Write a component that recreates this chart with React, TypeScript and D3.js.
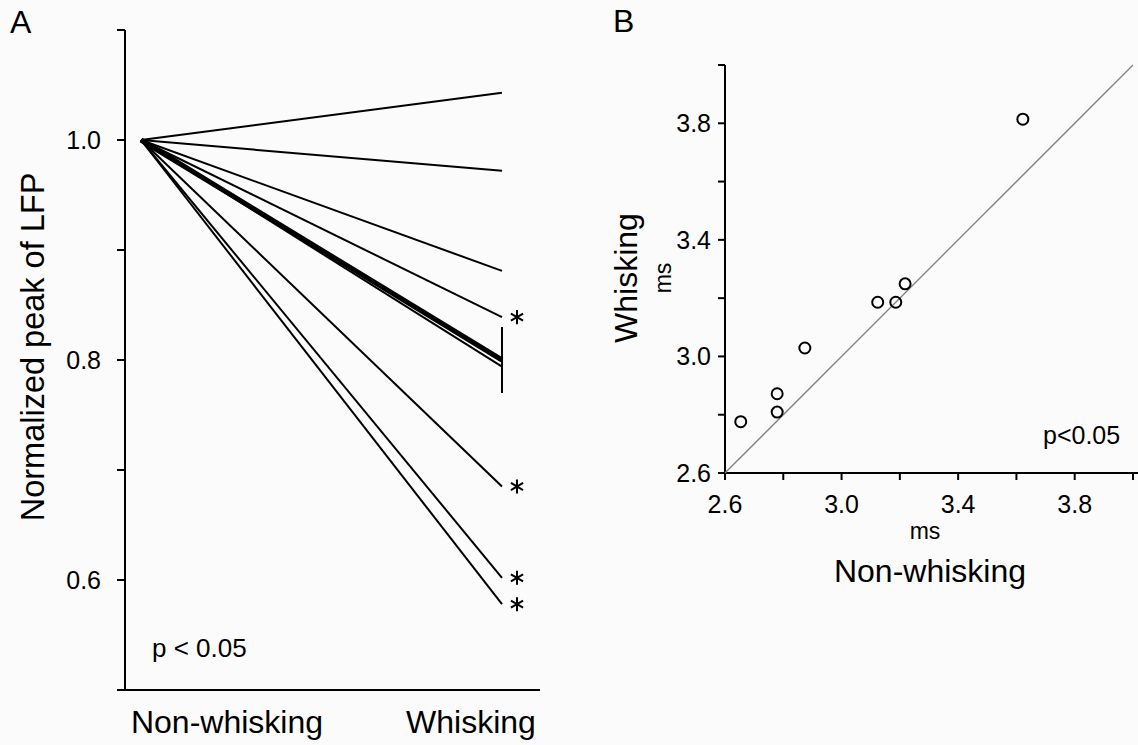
import React from 'react';
import * as d3 from 'd3';

// panel A: normalized LFP peak, each recording goes from 1.0 (non-whisking) to its whisking value
const conditions = ['Non-whisking', 'Whisking'];
const whiskingPeak = [1.043, 0.972, 0.881, 0.839, 0.794, 0.685, 0.602, 0.578];
const significant = [false, false, false, true, false, true, true, true];
const meanPeak = 0.8;
const semPeak = 0.03;
const peakTicks = [0.5, 0.6, 0.7, 0.8, 0.9, 1.0, 1.1];
const peakLabels = [0.6, 0.8, 1.0];

// panel B: latency (ms), non-whisking vs whisking
const latencyNonWhisking = [2.654, 2.779, 2.779, 2.874, 3.124, 3.186, 3.218, 3.622];
const latencyWhisking = [2.776, 2.809, 2.872, 3.029, 3.186, 3.186, 3.249, 3.814];
const latencyTicks = [2.6, 2.8, 3.0, 3.2, 3.4, 3.6, 3.8, 4.0];
const latencyLabels = [2.6, 3.0, 3.4, 3.8];

const font = '"Liberation Sans", Arial, sans-serif';
const fmt = d3.format('.1f');

const App = () => {
    const W = 1138, H = 745;

    // scales for A
    const xA = d3.scalePoint().domain(conditions).range([141, 502]);
    const yA = d3.scaleLinear().domain([0.5, 1.1]).range([690, 30]);
    const line = d3.line<[string, number]>().x(d => xA(d[0])!).y(d => yA(d[1]));
    const star = d3.symbol(d3.symbolAsterisk, 139)();

    // scales for B
    const xB = d3.scaleLinear().domain([2.6, 4.0]).range([725, 1133]);
    const yB = d3.scaleLinear().domain([2.6, 4.0]).range([473, 65]);

    return (
        <svg width={W} height={H} style={{position: 'absolute', left: 0, top: 0}} fontFamily={font}>
            <rect width={W} height={H} fill="#fbfbfb"/>

            {/* ---------- A ---------- */}
            <text x={10} y={33} fontSize={32}>A</text>
            <line x1={125} x2={125} y1={yA(1.1)} y2={yA(0.5)} stroke="#000" strokeWidth={2}/>
            <line x1={124} x2={540} y1={yA(0.5)} y2={yA(0.5)} stroke="#000" strokeWidth={2}/>
            {peakTicks.map(t => (
                <line key={t} x1={117} x2={125} y1={yA(t)} y2={yA(t)} stroke="#000" strokeWidth={2}/>
            ))}
            {peakLabels.map(t => (
                <text key={t} x={101} y={yA(t)} dy="0.35em" textAnchor="end" fontSize={25}>{fmt(t)}</text>
            ))}
            <text transform="translate(44,347) rotate(-90)" textAnchor="middle" fontSize={32.5}>
                Normalized peak of LFP
            </text>

            {whiskingPeak.map((v, i) => (
                <path key={i} d={line([[conditions[0], 1.0], [conditions[1], v]])!}
                      fill="none" stroke="#000" strokeWidth={2}/>
            ))}
            <path d={line([[conditions[0], 1.0], [conditions[1], meanPeak]])!}
                  fill="none" stroke="#000" strokeWidth={5}/>
            <line x1={xA(conditions[1])} x2={xA(conditions[1])}
                  y1={yA(meanPeak + semPeak)} y2={yA(meanPeak - semPeak)} stroke="#000" strokeWidth={2}/>
            {whiskingPeak.map((v, i) => significant[i] ? (
                <path key={i} d={star!} transform={`translate(${xA(conditions[1])! + 15},${yA(v)})`}
                      fill="none" stroke="#000" strokeWidth={2}/>
            ) : null)}

            <text x={152} y={657} fontSize={26}>p &lt; 0.05</text>
            <text x={xA(conditions[0])! + 86} y={733} textAnchor="middle" fontSize={32}>{conditions[0]}</text>
            <text x={xA(conditions[1])! - 31} y={733} textAnchor="middle" fontSize={32}>{conditions[1]}</text>

            {/* ---------- B ---------- */}
            <text x={613} y={32} fontSize={32}>B</text>
            <line x1={xB(2.6)} x2={xB(2.6)} y1={yB(4.0)} y2={yB(2.6)} stroke="#000" strokeWidth={2}/>
            <line x1={xB(2.6) - 1} x2={W} y1={yB(2.6)} y2={yB(2.6)} stroke="#000" strokeWidth={2}/>
            {latencyTicks.map(t => (
                <g key={t}>
                    <line x1={718} x2={725} y1={yB(t)} y2={yB(t)} stroke="#000" strokeWidth={2}/>
                    <line x1={xB(t)} x2={xB(t)} y1={473} y2={480} stroke="#000" strokeWidth={2}/>
                </g>
            ))}
            {latencyLabels.map(t => (
                <g key={t}>
                    <text x={711} y={yB(t)} dy="0.35em" textAnchor="end" fontSize={25}>{fmt(t)}</text>
                    <text x={xB(t)} y={513} textAnchor="middle" fontSize={25}>{fmt(t)}</text>
                </g>
            ))}
            <line x1={xB(2.6)} y1={yB(2.6)} x2={xB(4.0)} y2={yB(4.0)} stroke="#808080" strokeWidth={1.3}/>
            {latencyNonWhisking.map((v, i) => (
                <circle key={i} cx={xB(v)} cy={yB(latencyWhisking[i])} r={5.5}
                        fill="none" stroke="#000" strokeWidth={2}/>
            ))}
            <text x={1043} y={444} fontSize={25}>p&lt;0.05</text>
            <text x={925} y={539} textAnchor="middle" fontSize={23}>ms</text>
            <text x={930} y={582} textAnchor="middle" fontSize={32}>Non-whisking</text>
            <text transform="translate(637,278) rotate(-90)" textAnchor="middle" fontSize={32}>Whisking</text>
            <text transform="translate(671,278) rotate(-90)" textAnchor="middle" fontSize={23}>ms</text>
        </svg>
    );
};

export default App;
